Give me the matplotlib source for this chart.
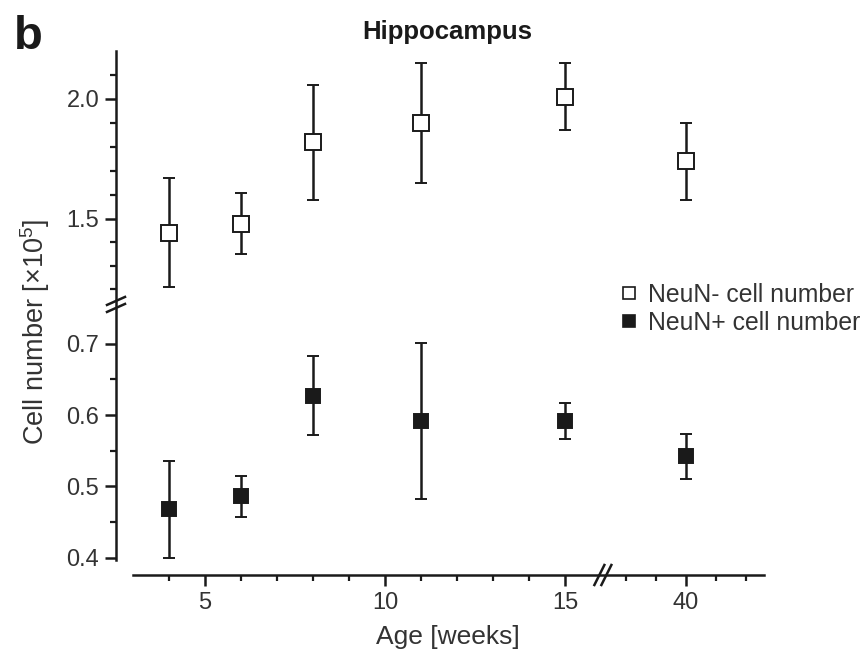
import numpy as np
import matplotlib
matplotlib.use('Agg')
import matplotlib.pyplot as plt
from matplotlib.lines import Line2D

plt.rcParams['font.family'] = ['Liberation Sans', 'DejaVu Sans']
plt.rcParams['mathtext.fontset'] = 'custom'
plt.rcParams['mathtext.rm'] = 'Liberation Sans'
plt.rcParams['mathtext.it'] = 'Liberation Sans:italic'
plt.rcParams['mathtext.bf'] = 'Liberation Sans:bold'

# data
age = [4, 6, 8, 11, 15, 40]
neun_neg = [1.44, 1.48, 1.82, 1.90, 2.01, 1.74]
neun_neg_err = [0.23, 0.13, 0.24, 0.25, 0.14, 0.16]
neun_pos = [0.468, 0.486, 0.627, 0.592, 0.592, 0.542]
neun_pos_err = [0.068, 0.029, 0.055, 0.109, 0.025, 0.032]

x_major = [5, 10, 15, 40]
x_minor = [4, 6, 7, 8, 9, 11, 12, 13, 14, 38, 39, 41, 42]
y_major = [0.4, 0.5, 0.6, 0.7, 1.5, 2.0]
y_minor = [0.45, 0.55, 0.65, 1.2, 1.3, 1.4, 1.6, 1.7, 1.8, 1.9, 2.1]

# broken axes as piecewise linear scales
x_knots = [-100, 5, 16, 37.3, 40, 100]
x_pos = [-3780, 0, 396, 400, 481, 2281]
y_knots = [-10, 0.4, 0.75, 1.15, 1.5, 10]
y_pos = [-7384, 0, 250, 257, 339, 2379]

W, H = 868, 660
fig = plt.figure(figsize=(W / 100, H / 100), dpi=100)
ax = fig.add_axes([133 / W, 1 - 560 / H, (764 - 133) / W, (560 - 51) / H])

ax.set_xscale('function', functions=(lambda v: np.interp(v, x_knots, x_pos),
                                     lambda t: np.interp(t, x_pos, x_knots)))
ax.set_yscale('function', functions=(lambda v: np.interp(v, y_knots, y_pos),
                                     lambda t: np.interp(t, y_pos, y_knots)))
ax.set_xlim(3.0, 42.6)
ax.set_ylim(0.397, 2.2)

ink = '#1a1a1a'
ax.errorbar(age, neun_neg, yerr=neun_neg_err, fmt='s', ms=11, mfc='white', mec=ink,
            mew=1.4, ecolor=ink, elinewidth=1.8, capsize=4, capthick=1.8, zorder=3)
ax.errorbar(age, neun_pos, yerr=neun_pos_err, fmt='s', ms=10, mfc=ink, mec=ink,
            mew=1.4, ecolor=ink, elinewidth=1.8, capsize=4, capthick=1.8, zorder=3)

# spine offsets in pixels (outward takes points)
spine_dx, spine_dy = 17, 15
for s in ['top', 'right']:
    ax.spines[s].set_visible(False)
ax.spines['left'].set_position(('outward', spine_dx * 0.72))
ax.spines['bottom'].set_position(('outward', spine_dy * 0.72))
for s in ['left', 'bottom']:
    ax.spines[s].set_linewidth(1.8)
    ax.spines[s].set_color(ink)

ax.set_xticks(x_major)
ax.set_xticklabels([str(v) for v in x_major])
ax.set_xticks(x_minor, minor=True)
ax.set_yticks(y_major)
ax.set_yticklabels(['%.1f' % v for v in y_major])
ax.set_yticks(y_minor, minor=True)
ax.tick_params(which='major', length=8, width=1.8, color=ink, labelsize=17,
               labelcolor='#333333', pad=4)
ax.tick_params(which='minor', length=4.5, width=1.6, color=ink)

# break marks
def px_to_fig(px, py):
    return px / W, 1 - py / H

bx, by = ax.transData.transform((26, 0.95))
by = H - by
spine_x = 133 - spine_dx
for off in (-3.5, 3.5):
    x0, y0 = px_to_fig(spine_x - 9, by + off + 4)
    x1, y1 = px_to_fig(spine_x + 9, by + off - 4)
    fig.add_artist(Line2D([x0, x1], [y0, y1], color=ink, lw=1.8))
spine_y = 560 + spine_dy
for off in (-3.5, 3.5):
    x0, y0 = px_to_fig(bx + off - 5, spine_y + 10)
    x1, y1 = px_to_fig(bx + off + 5, spine_y - 10)
    fig.add_artist(Line2D([x0, x1], [y0, y1], color=ink, lw=1.8))

fig.text(35 / W, 1 - 332 / H, 'Cell number [×10$^{5}$]', rotation=90,
         ha='center', va='center', fontsize=19.5, color='#333333')
fig.text(448 / W, 1 - 637 / H, 'Age [weeks]', ha='center', va='center',
         fontsize=19, color='#333333')
fig.text(447 / W, 1 - 32 / H, 'Hippocampus', ha='center', va='center',
         fontsize=18.5, fontweight='bold', color='#1a1a1a')
fig.text(28 / W, 1 - 37 / H, 'b', ha='center', va='center',
         fontsize=34, fontweight='bold', color='#1a1a1a')

handles = [Line2D([], [], ls='none', marker='s', ms=8, mfc='white', mec=ink, mew=1.2),
           Line2D([], [], ls='none', marker='s', ms=8, mfc=ink, mec=ink, mew=1.2)]
fig.legend(handles, ['NeuN- cell number', 'NeuN+ cell number'], loc='upper left',
           bbox_to_anchor=(622 / W, 1 - 283 / H), frameon=False, fontsize=17.8,
           handlelength=0.6, handletextpad=0.45, labelspacing=0.15,
           borderaxespad=0, borderpad=0, labelcolor='#333333')

fig.savefig('out.png', dpi=100)
